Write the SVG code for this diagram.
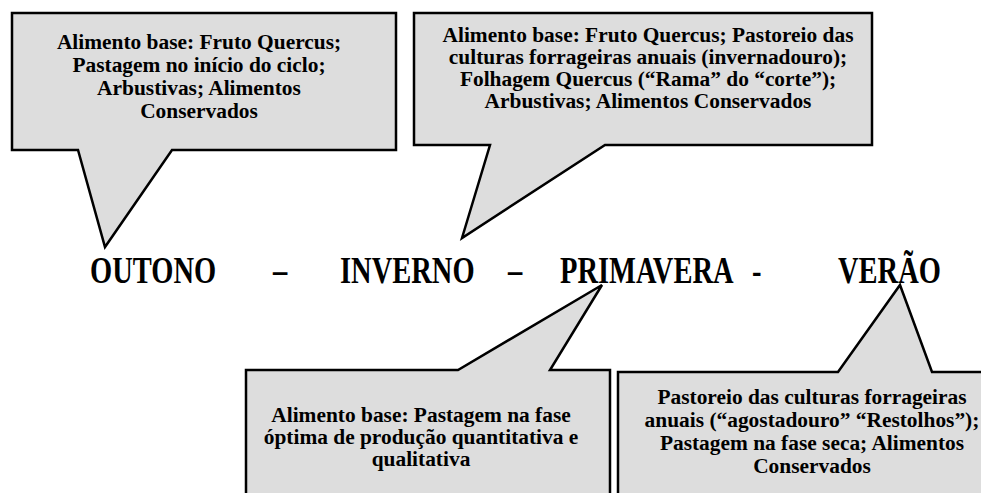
<svg xmlns="http://www.w3.org/2000/svg" width="981" height="493" viewBox="0 0 981 493">
<style>
.callout{fill:#dddddd;stroke:#000;stroke-width:2.5;stroke-linejoin:miter}
.t{font-family:"Liberation Serif","Times New Roman",serif;font-weight:bold;font-size:21.4px;fill:#000;text-anchor:middle}
.s{font-family:"Liberation Serif","Times New Roman",serif;font-weight:bold;font-size:28.5px;fill:#000}
</style>
<rect width="981" height="493" fill="#fff"/>
<g id="callout-outono">
<path class="callout" d="M12,13 H396 V150 H172 L105,247 L78,150 H12 Z"/>
<text class="t" x="199" y="49">Alimento base: Fruto Quercus;</text>
<text class="t" x="199" y="72">Pastagem no início do ciclo;</text>
<text class="t" x="199" y="95">Arbustivas; Alimentos</text>
<text class="t" x="199" y="118">Conservados</text>
</g>
<g id="callout-inverno">
<path class="callout" d="M414,13 H872 V145 H605 L462,238 L490,145 H414 Z"/>
<text class="t" x="648" y="42">Alimento base: Fruto Quercus; Pastoreio das</text>
<text class="t" x="648" y="64">culturas forrageiras anuais (invernadouro);</text>
<text class="t" x="648" y="86">Folhagem Quercus (“Rama” do “corte”);</text>
<text class="t" x="648" y="108">Arbustivas; Alimentos Conservados</text>
</g>
<g id="callout-primavera">
<path class="callout" d="M246,370 H458 L602,285 L550,370 H610 V500 H246 Z"/>
<text class="t" x="421" y="422">Alimento base: Pastagem na fase</text>
<text class="t" x="421" y="444">óptima de produção quantitativa e</text>
<text class="t" x="421" y="466">qualitativa</text>
</g>
<g id="callout-verao">
<path class="callout" d="M618,372 H838 L900,285 L932,372 H1015 V500 H618 Z"/>
<text class="t" x="812" y="404">Pastoreio das culturas forrageiras</text>
<text class="t" x="812" y="427">anuais (“agostadouro” “Restolhos”);</text>
<text class="t" x="812" y="450">Pastagem na fase seca; Alimentos</text>
<text class="t" x="812" y="473">Conservados</text>
</g>
<g id="seasons" transform="translate(0,283) scale(1,1.3) translate(0,-283)">
<text class="s" x="90" y="283">OUTONO</text>
<text class="s" x="273" y="283">–</text>
<text class="s" x="340" y="283">INVERNO</text>
<text class="s" x="508" y="283">–</text>
<text class="s" x="560" y="283">PRIMAVERA</text>
<text class="s" x="752" y="283">-</text>
<text class="s" x="838" y="283">VERÃO</text>
</g>
</svg>
